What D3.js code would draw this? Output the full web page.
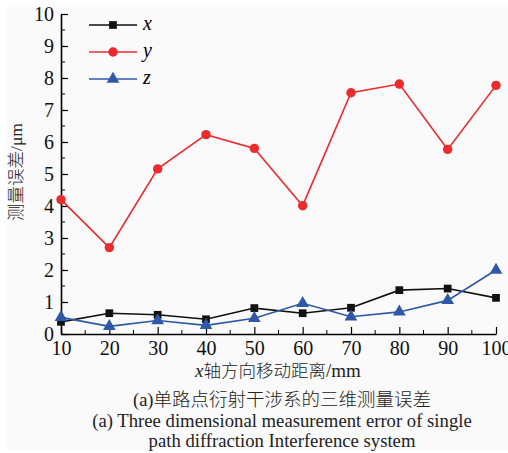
<!DOCTYPE html>
<html>
<head>
<meta charset="utf-8">
<script src="https://cdn.jsdelivr.net/npm/d3@7"></script>
<style>
  body { margin: 0; background: #fff; }
  svg { display: block; }
</style>
</head>
<body>
<div id="chart"></div>
<script>
// Chart data
const distances = [10, 20, 30, 40, 50, 60, 70, 80, 90, 100];
const errX = [0.38, 0.65, 0.60, 0.46, 0.81, 0.65, 0.82, 1.37, 1.42, 1.13];
const errY = [4.20, 2.70, 5.16, 6.23, 5.80, 4.01, 7.54, 7.81, 5.77, 7.77];
const errZ = [0.52, 0.24, 0.42, 0.27, 0.49, 0.96, 0.54, 0.69, 1.05, 2.00];
const yTicks = [0, 1, 2, 3, 4, 5, 6, 7, 8, 9, 10];
const seriesNames = ["x", "y", "z"];
const seriesColors = ["#111111", "#ec2b2f", "#2f58a8"];

const SERIF = "'Liberation Serif', 'Times New Roman', serif";
const CJK = "'Noto Sans CJK SC', sans-serif";

const width = 508, height = 453;
const margin = { left: 61, right: 12, top: 14, bottom: 119 };

const svg = d3.select("#chart")
  .append("svg")
  .attr("width", width)
  .attr("height", height);

// faint paper background
svg.append("rect")
  .attr("x", 7).attr("y", 7)
  .attr("width", 501).attr("height", 443)
  .attr("fill", "#fafafa");

const xScale = d3.scaleLinear()
  .domain([10, 100])
  .range([margin.left, width - margin.right]);

const yScale = d3.scaleLinear()
  .domain([0, 10])
  .range([height - margin.bottom, margin.top]);

// Axes (ticks pointing inward)
const xAxis = svg.append("g")
  .attr("transform", `translate(0,${yScale(0)})`)
  .call(d3.axisBottom(xScale).tickValues(distances).tickSize(-7).tickPadding(7).tickSizeOuter(0));
xAxis.append("g").selectAll("line")
  .data(distances.slice(0, -1).map(d => d + 5))
  .join("line")
  .attr("x1", d => xScale(d)).attr("x2", d => xScale(d))
  .attr("y1", 0).attr("y2", -4)
  .attr("stroke", "#000");

const yAxis = svg.append("g")
  .attr("transform", `translate(${xScale(10)},0)`)
  .call(d3.axisLeft(yScale).tickValues(yTicks).tickSize(-7).tickPadding(7).tickSizeOuter(0));
yAxis.append("g").selectAll("line")
  .data(yTicks.slice(0, -1).map(d => d + 0.5))
  .join("line")
  .attr("x1", 0).attr("x2", 4)
  .attr("y1", d => yScale(d)).attr("y2", d => yScale(d))
  .attr("stroke", "#000");

svg.selectAll(".domain").attr("stroke", "#000").attr("stroke-width", 1.6);
svg.selectAll(".tick line").attr("stroke", "#000").attr("stroke-width", 1.2);
svg.selectAll(".tick text")
  .attr("font-family", SERIF)
  .style("font-family", SERIF)
  .attr("font-size", 20)
  .attr("fill", "#111");
yAxis.selectAll(".tick text").attr("dy", "0.34em");

// Series
const series = [errX, errY, errZ];
const symbols = [d3.symbolSquare, d3.symbolCircle, d3.symbolTriangle];
const symbolSizes = [60, 70, 70];

const line = d3.line()
  .x((d, i) => xScale(distances[i]))
  .y(d => yScale(d));

series.forEach((values, s) => {
  svg.append("path")
    .datum(values)
    .attr("fill", "none")
    .attr("stroke", seriesColors[s])
    .attr("stroke-width", 1.6)
    .attr("d", line);
  svg.append("g").selectAll("path")
    .data(values)
    .join("path")
    .attr("transform", (d, i) => `translate(${xScale(distances[i])},${yScale(d)})`)
    .attr("d", d3.symbol().type(symbols[s]).size(symbolSizes[s]))
    .attr("fill", seriesColors[s]);
});

// Legend
const legend = svg.append("g").attr("transform", "translate(89,25)");
seriesNames.forEach((name, s) => {
  const row = legend.append("g").attr("transform", `translate(0,${s * 27})`);
  row.append("line")
    .attr("x1", 0).attr("x2", 48)
    .attr("stroke", seriesColors[s]).attr("stroke-width", 1.6);
  row.append("path")
    .attr("transform", "translate(24,0)")
    .attr("d", d3.symbol().type(symbols[s]).size(symbolSizes[s]))
    .attr("fill", seriesColors[s]);
  row.append("text")
    .attr("x", 54).attr("y", 5)
    .style("font-family", SERIF)
    .attr("font-style", "italic")
    .attr("font-size", 20)
    .text(name);
});

// Axis titles
svg.append("text")
  .attr("transform", `translate(22,172) rotate(-90)`)
  .attr("text-anchor", "middle")
  .style("font-family", `'Liberation Serif', ${CJK}`)
  .attr("font-weight", 300)
  .attr("font-size", 17.5)
  .attr("fill", "#222")
  .text("测量误差/μm");

const xTitle = svg.append("text")
  .attr("x", 278).attr("y", 377)
  .attr("text-anchor", "middle")
  .attr("font-size", 17.5)
  .attr("fill", "#222");
xTitle.append("tspan")
  .style("font-family", SERIF)
  .attr("font-style", "italic")
  .attr("font-size", 19)
  .text("x");
xTitle.append("tspan")
  .style("font-family", CJK)
  .attr("font-weight", 300)
  .text("轴方向移动距离");
xTitle.append("tspan")
  .style("font-family", SERIF)
  .attr("font-size", 19)
  .text("/mm");

// Caption
const caption = [
  "(a)单路点衍射干涉系的三维测量误差",
  "(a) Three dimensional measurement error of single",
  "path diffraction Interference system"
];
svg.append("g").selectAll("text")
  .data(caption)
  .join("text")
  .attr("x", 282)
  .attr("y", (d, i) => 406 + i * 20.5)
  .attr("text-anchor", "middle")
  .style("font-family", (d, i) => i === 0 ? `'Liberation Serif', ${CJK}` : SERIF)
  .attr("font-weight", (d, i) => i === 0 ? 300 : 400)
  .attr("font-size", (d, i) => i === 0 ? 18.5 : 18.7)
  .attr("fill", "#222")
  .text(d => d);
</script>
</body>
</html>
